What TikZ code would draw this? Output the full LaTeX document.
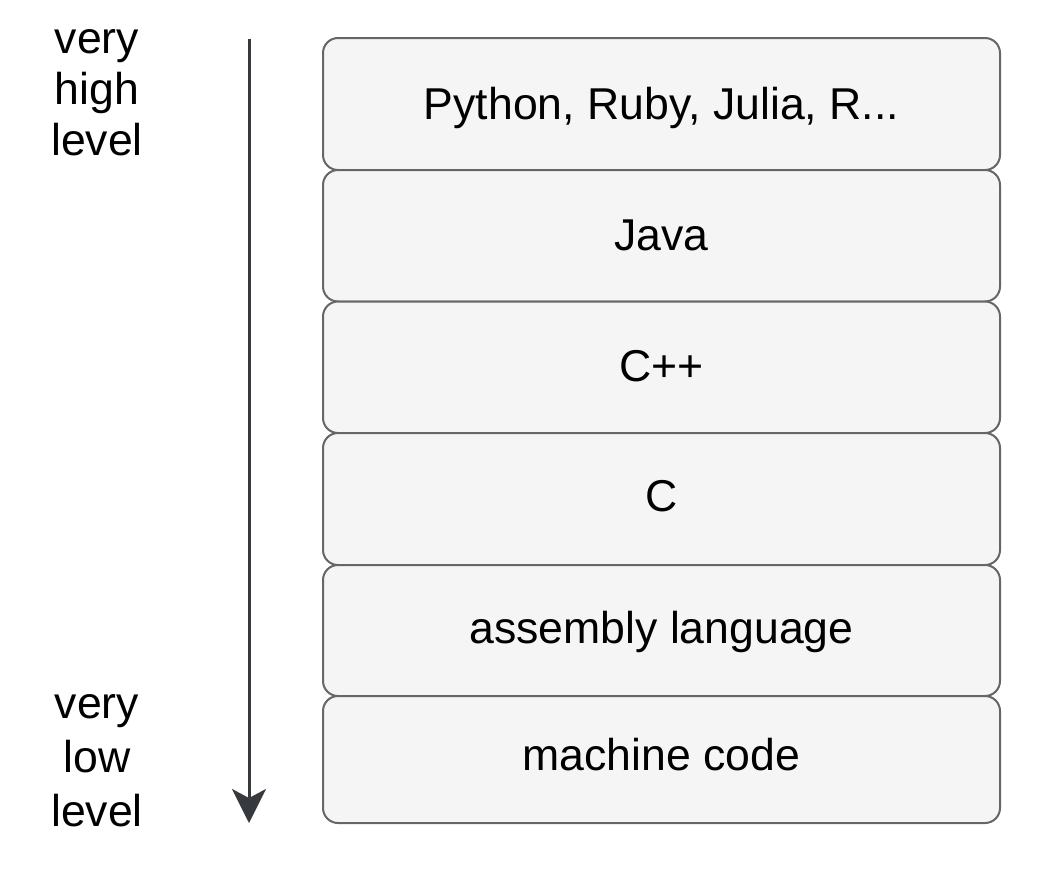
\documentclass[tikz,border=0pt]{standalone}
\usepackage{fontspec}
\setmainfont{Liberation Sans}
\usetikzlibrary{arrows.meta}
\definecolor{boxfill}{HTML}{F5F5F5}
\definecolor{boxline}{HTML}{666666}
\definecolor{arrowcol}{HTML}{36393D}
\begin{document}
\begin{tikzpicture}[x=1pt,y=-1pt,
  layer/.style={draw=boxline, fill=boxfill, line width=2pt, rounded corners=15pt,
    minimum width=677pt, inner sep=0pt},
  lbl/.style={font=\fontsize{44.6pt}{51pt}\selectfont, text=black, inner sep=0pt, anchor=base},
  side/.style={font=\fontsize{44.6pt}{51pt}\selectfont, text=black, align=center, inner sep=0pt, anchor=base},
  levelarrow/.style={draw=arrowcol, line width=3pt, -{Stealth[length=34pt,width=34pt,inset=9pt]}}]
\useasboundingbox (0,0) rectangle (1044,881);
% layers
\node[layer, minimum height=132pt]   (b1) at (661.5,104)    {};
\node[layer, minimum height=131.5pt] (b2) at (661.5,235.75) {};
\node[layer, minimum height=131.5pt] (b3) at (661.5,367.25) {};
\node[layer, minimum height=132pt]   (b4) at (661.5,499)    {};
\node[layer, minimum height=131pt]   (b5) at (661.5,630.5)  {};
\node[layer, minimum height=127pt]   (b6) at (661.5,759.5)  {};
% labels
\node[lbl] (t1) at (661.5,119) {Python, Ruby, Julia, R...};
\node[lbl] (t2) at (661.5,250) {Java};
\node[lbl] (t3) at (661.5,381) {C++};
\node[lbl] (t4) at (661.5,511) {C};
\node[lbl] (t5) at (661.5,643) {assembly language};
\node[lbl] (t6) at (661.5,770) {machine code};
% side labels (base = baseline of last line)
\node[side] (hi) at (97,155) {very\\high\\level};
\node[side] (lo) at (97,826) {very\\[3pt]low\\[3pt]level};
% arrow
\coordinate (atop) at (249,39);
\coordinate (abot) at (249,823);
\draw[levelarrow] (atop) -- (abot);
\end{tikzpicture}
\end{document}
